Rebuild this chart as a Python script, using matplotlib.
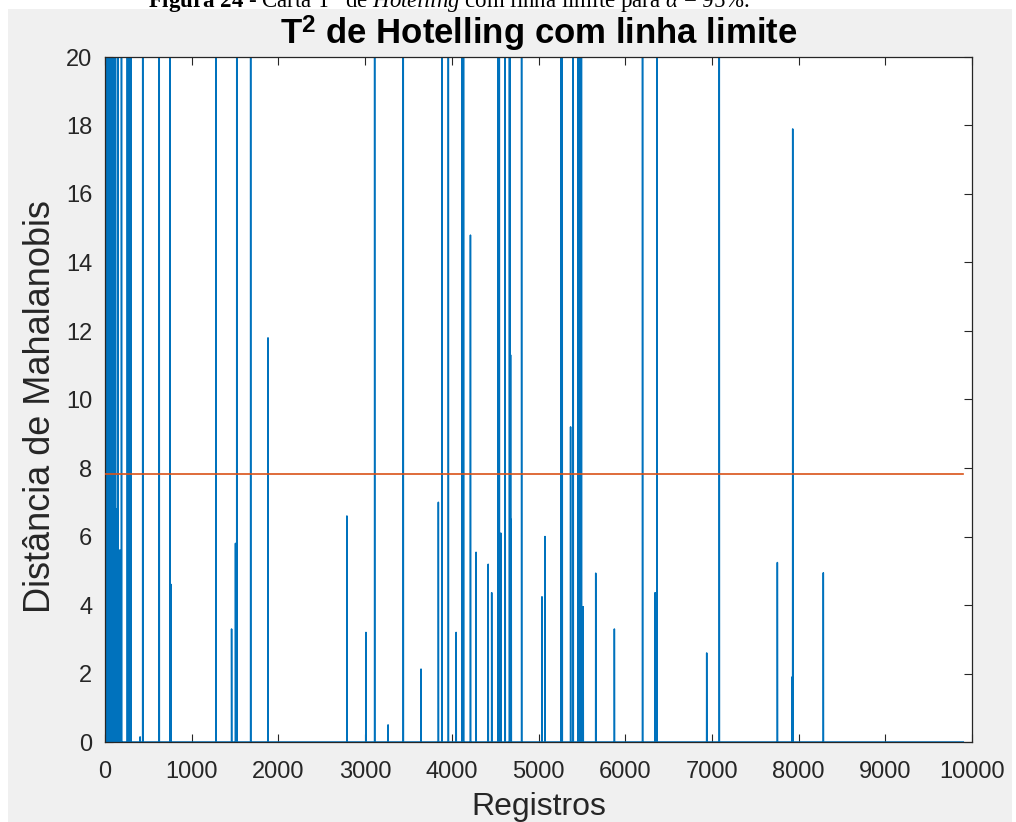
import numpy as np
import matplotlib
matplotlib.use("Agg")
import matplotlib.pyplot as plt
from matplotlib.patches import Rectangle

plt.rcParams['font.family'] = ['Liberation Sans', 'DejaVu Sans']
plt.rcParams['mathtext.fontset'] = 'custom'
plt.rcParams['mathtext.rm'] = 'Liberation Serif'
plt.rcParams['mathtext.it'] = 'Liberation Serif:italic'
plt.rcParams['mathtext.bf'] = 'Liberation Serif:bold'
plt.rcParams['mathtext.sf'] = 'Liberation Sans:bold'

# number of records and the 95% limit (chi2, 3 dof)
N_REG = 9900
LIMITE = 7.815

# dense block at the start of the series
band_idx = [2, 6, 11, 16, 21, 26, 31, 36, 41, 46, 51, 56, 61, 66, 71, 76, 81, 86,
            91, 96, 101, 106, 111, 116, 121, 126, 131,
            136, 141, 146, 151, 156, 161, 166, 171, 176]
band_val = [34, 52, 28, 61, 40, 45, 30, 57, 38, 49, 26, 64, 36, 43, 55, 31, 47, 39,
            6.8, 6.7, 24, 6.8, 6.6, 6.8, 31, 6.7, 6.8,
            5.6, 5.5, 5.6, 22, 5.6, 5.5, 5.6, 5.4, 5.6]

# isolated peaks (values above 20 leave the plot)
spike_idx = [190, 258, 262, 290, 298, 405, 435, 625, 750, 762,
             1280, 1460, 1505, 1520, 1680, 1880, 2790, 3010, 3110, 3265,
             3440, 3645, 3845, 3885, 3960, 4050, 4120, 4128, 4135, 4215,
             4280, 4420, 4460, 4535, 4542, 4548, 4565, 4615, 4665, 4672,
             4678, 4685, 4805, 5040, 5075, 5260, 5267, 5273, 5370, 5400,
             5455, 5465, 5475, 5485, 5495, 5515, 5660, 5875, 6200, 6345,
             6365, 6940, 7085, 7755, 7925, 7932, 8285]
spike_val = [35, 30, 45, 38, 52, 0.15, 40, 60, 45, 4.6,
             38, 3.3, 5.8, 42, 55, 11.8, 6.6, 3.2, 48, 0.5,
             36, 2.13, 7.0, 40, 50, 3.2, 45, 60, 38, 14.8,
             5.54, 5.19, 4.36, 42, 58, 35, 6.1, 44, 39, 50,
             11.3, 6.5, 47, 4.24, 6.0, 40, 55, 35, 9.2, 45,
             38, 50, 42, 60, 36, 3.95, 4.93, 3.3, 41, 4.36,
             47, 2.6, 52, 5.24, 1.9, 17.9, 4.94]

xticks = list(range(0, 10001, 1000))
yticks = list(range(0, 21, 2))

registros = np.arange(1, N_REG + 1)
dist = np.zeros(N_REG)
dist[np.array(band_idx) - 1] = band_val
dist[np.array(spike_idx) - 1] = spike_val

W, H = 1016, 822
fig = plt.figure(figsize=(W / 100, H / 100), dpi=100, facecolor='white')

# matlab figure window background (behind the axes)
fig.patches.append(Rectangle((8 / W, 0), (W - 12) / W, (H - 9) / H,
                             transform=fig.transFigure, facecolor='#f0f0f0',
                             edgecolor='none', zorder=-10))

fig.text(148 / W, 1 - 8 / H,
         r'$\mathbf{Figura\ 24}$ - Carta T$^{\mathrm{2}}$ de $\mathit{Hotelling}$ com linha limite para $\alpha$ = 95%.',
         family='Liberation Serif', fontsize=16.5, ha='left', va='baseline', zorder=5)

ax = fig.add_axes([105 / W, 1 - 742 / H, 867 / W, 685 / H])
ax.set_facecolor('white')

ax.plot(registros, dist, color='#0072BD', lw=1.1, zorder=2)
ax.plot([registros[0], registros[-1]], [LIMITE, LIMITE], color='#D95319', lw=1.2, zorder=3)

ax.set_xlim(0, 10000)
ax.set_ylim(0, 20)
ax.set_xticks(xticks)
ax.set_yticks(yticks)
ax.tick_params(direction='in', top=True, right=True, length=6, width=0.8,
               colors='#262626', labelsize=17)
ax.tick_params(axis='x', pad=14)
ax.tick_params(axis='y', pad=9)
for s in ax.spines.values():
    s.set_color('#262626')
    s.set_linewidth(0.9)

ax.set_title(r'T$^{\mathsf{2}}$ de Hotelling com linha limite', fontsize=25,
             fontweight='bold', color='black', pad=9)
ax.set_xlabel('Registros', fontsize=23, color='#262626', va='baseline')
ax.xaxis.set_label_coords(0.5, (742 - 815) / 685)
ax.set_ylabel('Distância de Mahalanobis', fontsize=26, color='#262626',
              rotation=90, va='center', ha='center', rotation_mode='default')
ax.yaxis.set_label_coords((41 - 105) / 867, 0.49)

fig.savefig('out.png', dpi=100, facecolor='white')
